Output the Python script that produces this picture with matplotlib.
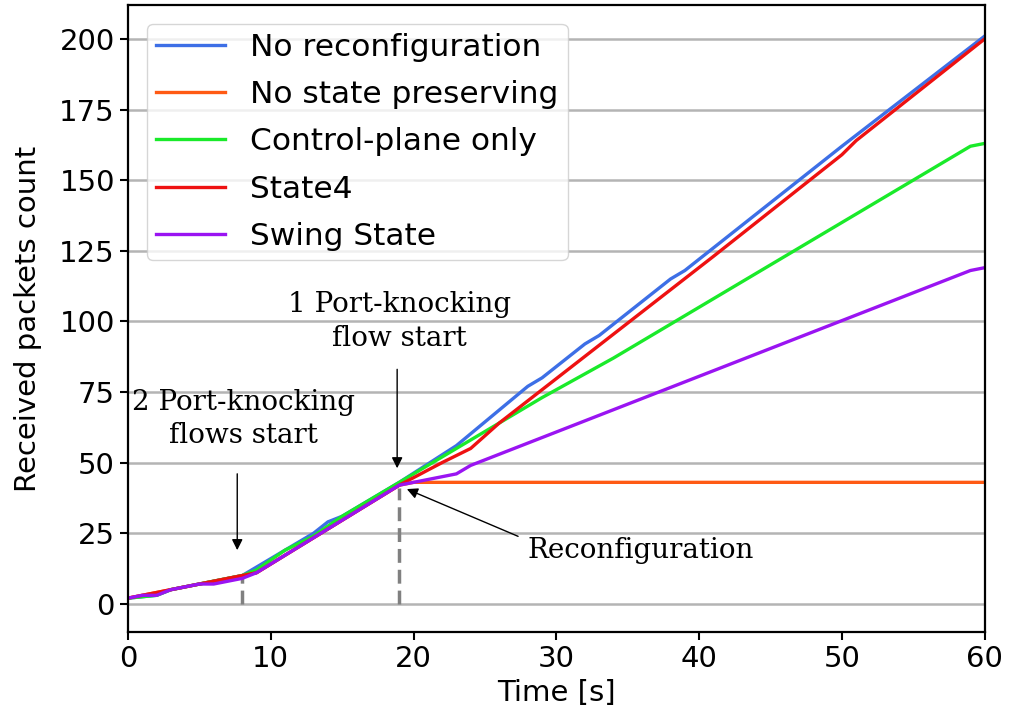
import numpy as np
import matplotlib
matplotlib.use("Agg")
import matplotlib.pyplot as plt

# time [s] / received packets
t_noreconf = [0, 2, 3, 5, 6, 8, 9, 11, 13, 14, 15, 17, 19, 23, 28, 29, 32, 33, 38, 39, 50, 60]
y_noreconf = [2, 3, 5, 7, 8, 10, 13, 19, 25, 29, 31, 37, 43, 56, 77, 80, 92, 95, 115, 118, 162, 201]

t_nostate = [0, 2, 4, 6, 8, 9, 19, 20, 60]
y_nostate = [2, 4, 6, 8, 10, 11, 42, 43, 43]

t_ctrl = [0, 2, 3, 5, 6, 8, 9, 11, 13, 15, 17, 19, 22, 25, 29, 34, 35, 40, 59, 60]
y_ctrl = [2, 3, 5, 7, 8, 10, 12, 19, 24, 31, 37, 43, 52, 61, 73, 87, 90, 105, 162, 163]

t_state4 = [0, 2, 4, 6, 8, 9, 19, 22, 24, 26, 41, 50, 51, 60]
y_state4 = [2, 4, 6, 8, 10, 11, 42, 50, 55, 64, 123, 159, 164, 200]

t_swing = [0, 1, 2, 3, 5, 6, 8, 9, 19, 23, 24, 59, 60]
y_swing = [2, 3, 3, 5, 7, 7, 9, 11, 42, 46, 49, 118, 119]

series = [
    ("No reconfiguration", t_noreconf, y_noreconf, "#3d6fe6"),
    ("No state preserving", t_nostate, y_nostate, "#ff5a14"),
    ("Control-plane only", t_ctrl, y_ctrl, "#1aea2a"),
    ("State4", t_state4, y_state4, "#ee1111"),
    ("Swing State", t_swing, y_swing, "#9a14f2"),
]

# events (dashed markers)
event_times = [8, 19]
event_levels = [9, 41]

fig = plt.figure(figsize=(10.12, 7.17), dpi=100)
ax = fig.add_subplot(111)
plt.subplots_adjust(left=0.1265, right=0.973, top=0.993, bottom=0.1185)

ax.grid(True, axis="y", color="#b4b4b4", linewidth=1.8)
ax.set_axisbelow(True)

ax.vlines(event_times, 0, event_levels, colors="#808080", linewidth=2.5,
          linestyles=(0, (4, 2)), zorder=1.5)

for name, t, y, c in series:
    ax.plot(t, y, color=c, linewidth=2.4, label=name)

ax.set_xlim(0, 60)
ax.set_ylim(-10, 212)
ax.set_xticks(np.arange(0, 61, 10))
ax.set_yticks(np.arange(0, 201, 25))
ax.tick_params(labelsize=21, length=6, width=1.5)
for s in ax.spines.values():
    s.set_linewidth(1.6)

ax.set_xlabel("Time [s]", fontsize=21)
ax.set_ylabel("Received packets count", fontsize=21)
ax.yaxis.set_label_coords(-0.1, 0.5)

leg = ax.legend(loc="upper left", fontsize=22.5, labelspacing=0.58,
                handlelength=2.2, handletextpad=0.8, borderpad=0.3,
                borderaxespad=0.6)

# annotations (serif, as in the paper figure)
afont = dict(family="DejaVu Serif", fontsize=20, ha="center", va="center",
             linespacing=1.3)
arr = dict(arrowstyle="-|>", color="black", lw=1, mutation_scale=16)

ax.text(19, 100, "1 Port-knocking\nflow start", **afont)
ax.annotate("", xy=(18.85, 47), xytext=(18.85, 84), arrowprops=arr)

ax.text(8.1, 65.5, "2 Port-knocking\nflows start", **afont)
ax.annotate("", xy=(7.65, 18), xytext=(7.65, 47), arrowprops=arr)

ax.text(35.9, 19, "Reconfiguration", **afont)
ax.annotate("", xy=(19.35, 41), xytext=(27.5, 23.5), arrowprops=arr)

plt.savefig("out.png", dpi=100)
